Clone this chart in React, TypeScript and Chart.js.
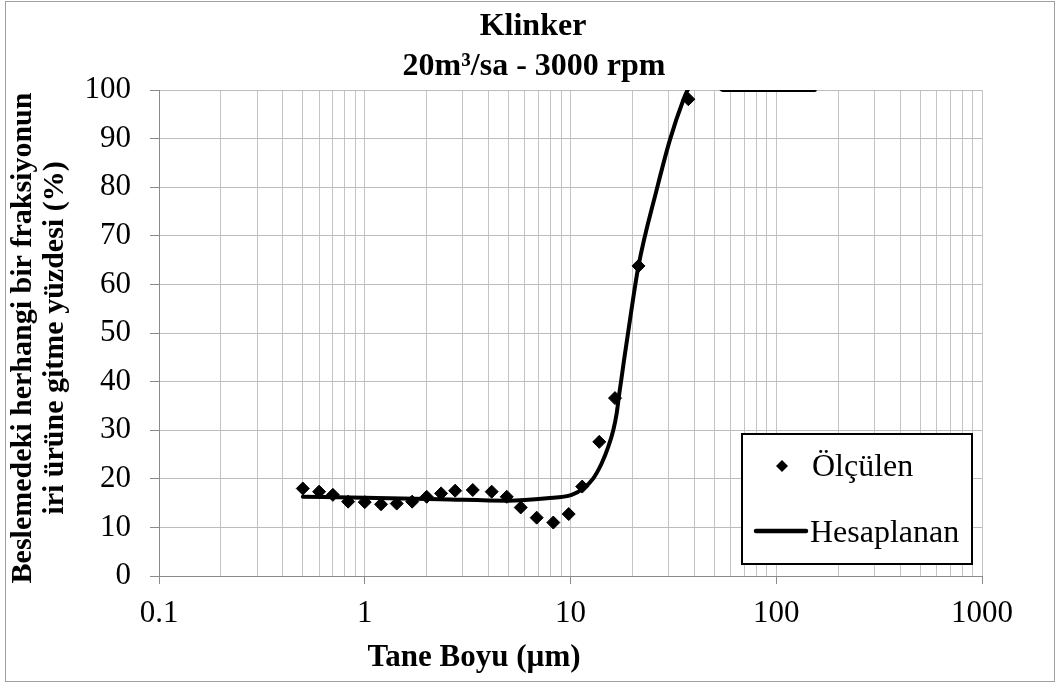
import React, { useEffect, useRef } from "react";
import { Chart, registerables } from "chart.js";

Chart.register(...registerables);

const chartTitle = ["Klinker", "20m³/sa - 3000 rpm"];
const xAxisTitle = "Tane Boyu (µm)";
const yAxisTitle = ["Beslemedeki herhangi bir fraksiyonun", "iri ürüne gitme yüzdesi (%)"];
const seriesNames = ["Ölçülen", "Hesaplanan"];

const measuredSize = [0.5, 0.6, 0.7, 0.83, 1.0, 1.2, 1.43, 1.7, 2.0, 2.35, 2.75, 3.35, 4.14, 4.9, 5.73, 6.85, 8.25, 9.8, 11.4, 13.8, 16.45, 21.4, 37.4];
const measuredPct = [18.0, 17.35, 16.7, 15.3, 15.2, 14.75, 14.9, 15.3, 16.3, 17.0, 17.55, 17.7, 17.35, 16.3, 14.1, 12.0, 11.0, 12.75, 18.4, 27.6, 36.6, 63.8, 98.1];

const calcSize = [0.5, 1.0, 2.32, 4.91, 7.69, 10.13, 11.54, 12.91, 14.18, 15.27, 16.14, 16.77, 17.27, 17.74, 18.2, 19.68, 21.4, 26.2, 30.4, 35.3, 37.1, 42, 48, 55, 80, 154];
const calcPct = [16.3, 16.1, 15.8, 15.5, 16.0, 16.7, 18.0, 20.1, 23.2, 26.6, 30.0, 33.5, 37.6, 41.0, 44.4, 54.1, 63.8, 79.4, 89.7, 97.9, 100, 103, 103, 100, 100, 100];

const xDecades = [0.1, 1, 10, 100, 1000];
const yTickValues = [0, 10, 20, 30, 40, 50, 60, 70, 80, 90, 100];

const SERIF = '"Liberation Serif", "Times New Roman", serif';

const decorPlugin = {
  id: "decor",
  beforeDraw(chart: any) {
    const ctx = chart.ctx;
    ctx.save();
    ctx.fillStyle = "#ffffff";
    ctx.fillRect(0, 0, chart.width, chart.height);
    ctx.strokeStyle = "#a0a0a0";
    ctx.lineWidth = 1;
    ctx.strokeRect(5.5, 1.5, 1049, 680);
    ctx.restore();
  },
  afterDraw(chart: any) {
    const ctx = chart.ctx;
    ctx.save();
    ctx.fillStyle = "#000";
    ctx.textAlign = "center";
    ctx.textBaseline = "alphabetic";
    ctx.font = `bold 32px ${SERIF}`;
    ctx.fillText(chartTitle[0], 533, 35);
    ctx.fillText(chartTitle[1], 534, 75);

    ctx.font = `bold 31px ${SERIF}`;
    ctx.fillText(xAxisTitle, 474, 666);

    ctx.save();
    ctx.translate(0, 338);
    ctx.rotate(-Math.PI / 2);
    ctx.textBaseline = "middle";
    ctx.font = `bold 30px ${SERIF}`;
    ctx.fillText(yAxisTitle[0], 0, 23);
    ctx.fillText(yAxisTitle[1], 0, 55);
    ctx.restore();

    // legend
    ctx.fillStyle = "#fff";
    ctx.fillRect(742, 434, 230, 130);
    ctx.strokeStyle = "#000";
    ctx.lineWidth = 2;
    ctx.strokeRect(742, 434, 230, 130);

    ctx.fillStyle = "#000";
    ctx.beginPath();
    ctx.moveTo(782, 460);
    ctx.lineTo(788, 466);
    ctx.lineTo(782, 472);
    ctx.lineTo(776, 466);
    ctx.closePath();
    ctx.fill();

    ctx.beginPath();
    ctx.lineCap = "round";
    ctx.lineWidth = 4.5;
    ctx.moveTo(756, 531);
    ctx.lineTo(806, 531);
    ctx.stroke();

    ctx.font = `32px ${SERIF}`;
    ctx.textAlign = "left";
    ctx.textBaseline = "alphabetic";
    ctx.fillText(seriesNames[0], 812, 476);
    ctx.fillText(seriesNames[1], 810, 542);
    ctx.restore();
  },
};

export default function App() {
  const ref = useRef<HTMLCanvasElement | null>(null);

  useEffect(() => {
    if (!ref.current) return;
    const measured = measuredSize.map((x, i) => ({ x, y: measuredPct[i] }));
    const calc = calcSize.map((x, i) => ({ x, y: calcPct[i] }));

    const chart = new Chart(ref.current, {
      type: "scatter",
      data: {
        datasets: [
          {
            label: seriesNames[1],
            data: calc,
            showLine: true,
            borderColor: "#000",
            borderWidth: 4,
            pointRadius: 0,
            cubicInterpolationMode: "monotone",
            borderCapStyle: "round",
            order: 1,
          },
          {
            label: seriesNames[0],
            data: measured,
            showLine: false,
            pointStyle: "rectRot",
            pointRadius: 6.5,
            pointBackgroundColor: "#000",
            pointBorderColor: "#000",
            pointBorderWidth: 1,
            order: 2,
          },
        ],
      },
      options: {
        responsive: false,
        animation: false,
        devicePixelRatio: 1,
        layout: { padding: { left: 0, top: 90, right: 78, bottom: 0 } },
        plugins: {
          legend: { display: false },
          title: { display: false },
          tooltip: { enabled: false },
        },
        scales: {
          x: {
            type: "logarithmic",
            min: 0.1,
            max: 1000,
            afterBuildTicks: (scale: any) => {
              const ticks: any[] = [];
              for (let d = 0; d < xDecades.length - 1; d++) {
                for (let m = 1; m <= 9; m++) {
                  ticks.push({ value: m === 1 ? xDecades[d] : Number((m * xDecades[d]).toPrecision(6)) });
                }
              }
              ticks.push({ value: xDecades[xDecades.length - 1] });
              scale.ticks = ticks;
            },
            afterFit: (scale: any) => {
              scale.height = 108;
              scale.paddingLeft = 0;
              scale.paddingRight = 0;
            },
            ticks: {
              autoSkip: false,
              maxRotation: 0,
              minRotation: 0,
              padding: 11,
              color: "#000",
              font: { family: SERIF, size: 31 },
              callback: (value: any) => (xDecades.includes(Number(value)) ? String(value) : ""),
            },
            grid: {
              color: "#c4c4c4",
              lineWidth: 1,
              tickLength: 8,
              tickColor: (ctx: any) =>
                ctx.tick && xDecades.includes(ctx.tick.value) ? "#8a8a8a" : "rgba(0,0,0,0)",
            },
            border: { display: true, color: "#8a8a8a", width: 1 },
          },
          y: {
            type: "linear",
            min: 0,
            max: 100,
            afterBuildTicks: (scale: any) => {
              scale.ticks = yTickValues.map((v) => ({ value: v }));
            },
            afterFit: (scale: any) => {
              scale.width = 159;
              scale.paddingTop = 0;
              scale.paddingBottom = 0;
            },
            ticks: {
              padding: 19,
              color: "#000",
              font: { family: SERIF, size: 31 },
            },
            grid: {
              color: "#bcbcbc",
              lineWidth: 1,
              tickLength: 9,
              tickColor: "#8a8a8a",
            },
            border: { display: true, color: "#8a8a8a", width: 1 },
          },
        },
      },
      plugins: [decorPlugin],
    } as any);

    return () => chart.destroy();
  }, []);

  return (
    <div style={{ position: "fixed", left: 0, top: 0, width: 1060, height: 684, background: "#fff" }}>
      <canvas ref={ref} width={1060} height={684} style={{ display: "block", width: 1060, height: 684 }} />
    </div>
  );
}
